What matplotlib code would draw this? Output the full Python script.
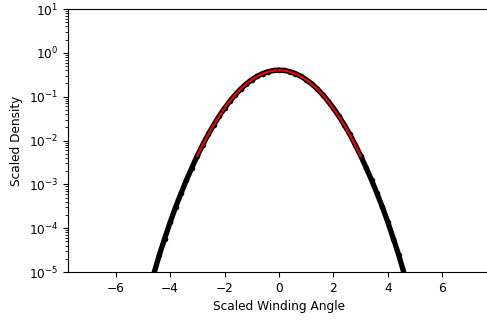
import numpy as np
import matplotlib
matplotlib.use("Agg")
import matplotlib.pyplot as plt

angle = [-4.6, -4.4, -4.2, -4.0, -3.8, -3.6, -3.4, -3.2, -3.0, -2.8, -2.6, -2.4,
         -2.2, -2.0, -1.8, -1.6, -1.4, -1.2, -1.0, -0.8, -0.6, -0.4, -0.2, 0.0,
         0.2, 0.4, 0.6, 0.8, 1.0, 1.2, 1.4, 1.6, 1.8, 2.0, 2.2, 2.4,
         2.6, 2.8, 3.0, 3.2, 3.4, 3.6, 3.8, 4.0, 4.2, 4.4, 4.6]
density = [9.0e-6, 2.4e-5, 5.8e-5, 1.35e-4, 3.0e-4, 6.2e-4, 1.25e-3, 2.4e-3, 4.5e-3, 8.0e-3, 0.0138, 0.0226,
           0.0358, 0.0545, 0.0796, 0.112, 0.151, 0.196, 0.245, 0.293, 0.337, 0.372, 0.396, 0.405,
           0.396, 0.372, 0.337, 0.293, 0.245, 0.196, 0.151, 0.112, 0.0796, 0.0545, 0.0358, 0.0226,
           0.0138, 8.0e-3, 4.5e-3, 2.4e-3, 1.25e-3, 6.2e-4, 3.0e-4, 1.35e-4, 5.8e-5, 2.4e-5, 9.0e-6]

# gaussian fit (red line)
fit_x = [-3.0, -2.8, -2.6, -2.4, -2.2, -2.0, -1.8, -1.6, -1.4, -1.2, -1.0, -0.8, -0.6, -0.4, -0.2, 0.0,
         0.2, 0.4, 0.6, 0.8, 1.0, 1.2, 1.4, 1.6, 1.8, 2.0, 2.2, 2.4, 2.6, 2.8, 3.0]
fit_y = [4.43e-3, 7.92e-3, 0.0136, 0.0224, 0.0355, 0.0540, 0.0790, 0.1109, 0.1497, 0.1942, 0.2420, 0.2897,
         0.3332, 0.3683, 0.3910, 0.3989, 0.3910, 0.3683, 0.3332, 0.2897, 0.2420, 0.1942, 0.1497, 0.1109,
         0.0790, 0.0540, 0.0355, 0.0224, 0.0136, 7.92e-3, 4.43e-3]

plt.rcParams['font.size'] = 8.7

fig = plt.figure(figsize=(4.87, 3.2), dpi=100)
ax = fig.add_axes([68 / 487, 48 / 320, 422 / 487, 263 / 320])

ax.plot(angle, density, 'k-', marker='o', ms=3, lw=3.8)
ax.plot(fit_x, fit_y, 'r-', lw=1.5)

ax.set_yscale('log')
ax.set_ylim(1e-5, 1e1)
ax.set_xlim(-7.75, 7.75)
ax.set_xticks([-6, -4, -2, 0, 2, 4, 6])
ax.set_xlabel("Scaled Winding Angle")
ax.set_ylabel("Scaled Density")

fig.savefig("out.png", dpi=100)
